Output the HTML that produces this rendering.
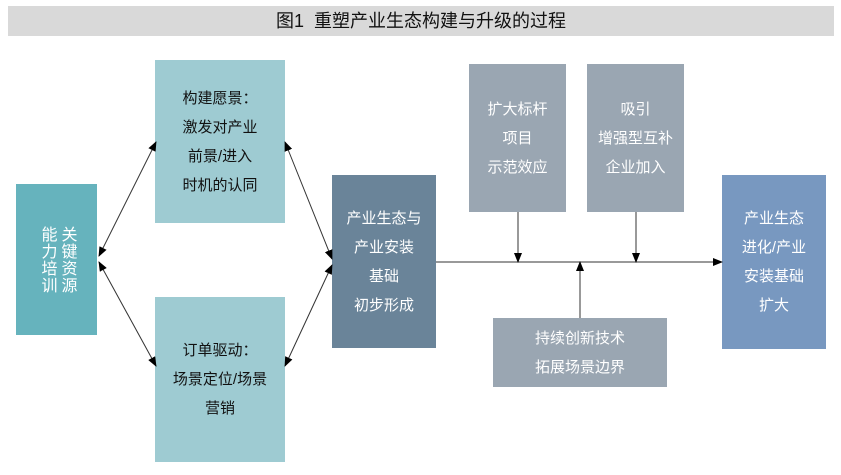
<!DOCTYPE html><html><head><meta charset="utf-8"><style>
body{margin:0;width:841px;height:475px;background:#fff;position:relative;font-family:"Liberation Sans","Noto Sans CJK SC",sans-serif;overflow:hidden}
.b{position:absolute;display:flex;flex-direction:column;justify-content:center;align-items:center;text-align:center;font-size:15px;line-height:29px}
</style></head><body>
<div style="position:absolute;left:8px;top:6px;width:826px;height:30px;background:#d9d9d9;text-align:center;font-size:18px;line-height:30px;color:#111">图1&nbsp; 重塑产业生态构建与升级的过程</div>
<div class="b" style="left:16px;top:184px;width:81px;height:151px;background:#66b3bd;color:#fff"><div style="writing-mode:vertical-rl;font-size:16px;line-height:20px;letter-spacing:1px">关键资源<br>能力培训</div></div>
<div class="b" style="left:155px;top:60px;width:130px;height:163px;background:#9ecbd2;color:#111">构建愿景：<br>激发对产业<br>前景/进入<br>时机的认同</div>
<div class="b" style="left:155px;top:297px;width:130px;height:165px;background:#9ecbd2;color:#111">订单驱动：<br>场景定位/场景<br>营销</div>
<div class="b" style="left:332px;top:175px;width:104px;height:173px;background:#6a8499;color:#fff">产业生态与<br>产业安装<br>基础<br>初步形成</div>
<div class="b" style="left:469px;top:64px;width:97px;height:148px;background:#9aa6b2;color:#fff">扩大标杆<br>项目<br>示范效应</div>
<div class="b" style="left:587px;top:64px;width:97px;height:148px;background:#9aa6b2;color:#fff">吸引<br>增强型互补<br>企业加入</div>
<div class="b" style="left:493px;top:318px;width:174px;height:69px;background:#9aa6b2;color:#fff">持续创新技术<br>拓展场景边界</div>
<div class="b" style="left:722px;top:175px;width:104px;height:174px;background:#7898c0;color:#fff">产业生态<br>进化/产业<br>安装基础<br>扩大</div>
<svg width="841" height="475" style="position:absolute;left:0;top:0">
<defs><marker id="a" markerWidth="10" markerHeight="8" refX="9" refY="4" orient="auto-start-reverse" markerUnits="userSpaceOnUse"><path d="M0,0L10,4L0,8z" fill="#000"/></marker></defs>
<g stroke="#333" stroke-width="1" fill="none">
<line x1="99" y1="256" x2="156" y2="142" marker-start="url(#a)" marker-end="url(#a)"/>
<line x1="99" y1="262" x2="156" y2="366" marker-start="url(#a)" marker-end="url(#a)"/>
<line x1="285" y1="142" x2="332" y2="259" marker-start="url(#a)" marker-end="url(#a)"/>
<line x1="285" y1="366" x2="332" y2="265" marker-start="url(#a)" marker-end="url(#a)"/>
<line x1="436" y1="262" x2="722" y2="262" marker-end="url(#a)"/>
<line x1="518" y1="212" x2="518" y2="262" marker-end="url(#a)"/>
<line x1="636" y1="212" x2="636" y2="262" marker-end="url(#a)"/>
<line x1="580" y1="318" x2="580" y2="262" marker-end="url(#a)"/>
</g></svg>
</body></html>
